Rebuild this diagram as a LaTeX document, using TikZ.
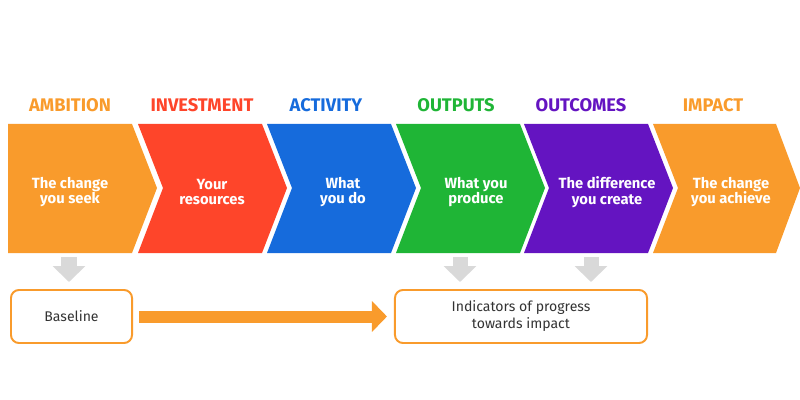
\documentclass[tikz,border=0pt]{standalone}
\usepackage{fontspec}
\setmainfont{Fira Sans}
\usetikzlibrary{arrows.meta}
\definecolor{ambitionorange}{HTML}{F99B2C}
\definecolor{investred}{HTML}{FE452A}
\definecolor{activityblue}{HTML}{166BDC}
\definecolor{outputgreen}{HTML}{1FB536}
\definecolor{outcomepurple}{HTML}{6414C1}
\definecolor{arrowgray}{HTML}{D9D9D9}
\definecolor{boxtext}{HTML}{333333}
\tikzset{
  headlabel/.style={font=\bfseries\fontsize{13}{15}\selectfont},
  chevlabel/.style={text=white, align=center, font=\bfseries\fontsize{10.5}{11}\selectfont},
  markbox/.style={draw=ambitionorange, line width=1.4pt, rounded corners=0.2cm,
    minimum height=1.325cm, text=boxtext, align=center,
    font=\fontsize{10}{12.1}\selectfont},
  grayarrow/.style={draw=arrowgray, line width=0.375cm,
    -{Triangle[width=0.8cm, length=0.4cm]}, shorten >=0.175cm},
  bigarrow/.style={draw=ambitionorange, line width=0.3cm,
    -{Triangle[width=0.75cm, length=0.375cm]}, shorten <=0.15cm, shorten >=0.175cm}
}
\begin{document}
\begin{tikzpicture}[x=0.025cm, y=-0.025cm]
\useasboundingbox (0,0) rectangle (800,400);
% chevrons
\fill[ambitionorange] (8,124) -- (132,124) -- (157,188) -- (132,253) -- (8,253) -- cycle;
\fill[investred] (138,124) -- (262,124) -- (287,188) -- (262,253) -- (138,253) -- (163,188) -- cycle;
\fill[activityblue] (267,124) -- (391,124) -- (416,188) -- (391,253) -- (267,253) -- (292,188) -- cycle;
\fill[outputgreen] (396,124) -- (520,124) -- (545,188) -- (520,253) -- (396,253) -- (421,188) -- cycle;
\fill[outcomepurple] (524,124) -- (648,124) -- (673,188) -- (648,253) -- (524,253) -- (549,188) -- cycle;
\fill[ambitionorange] (653,124) -- (776,124) -- (800,188) -- (776,253) -- (653,253) -- (678,188) -- cycle;
% headings
\node[headlabel, text=ambitionorange] (ambition) at (70,105) {AMBITION};
\node[headlabel, text=investred] (investment) at (202,105) {INVESTMENT};
\node[headlabel, text=activityblue] (activity) at (326,105) {ACTIVITY};
\node[headlabel, text=outputgreen] (outputs) at (456,105) {OUTPUTS};
\node[headlabel, text=outcomepurple] (outcomes) at (581,105) {OUTCOMES};
\node[headlabel, text=ambitionorange] (impact) at (713,105) {IMPACT};
% chevron texts
\node[chevlabel] (seek) at (70,192) {The change\\you seek};
\node[chevlabel] (resources) at (212,192) {Your\\resources};
\node[chevlabel] (whatdo) at (343,192) {What\\you do};
\node[chevlabel] (produce) at (476,192) {What you\\produce};
\node[chevlabel] (difference) at (607,192) {The difference\\you create};
\node[chevlabel] (achieve) at (731,192) {The change\\you achieve};
% boxes
\node[markbox, minimum width=3.025cm] (baseline) at (71.5,316.5) {Baseline};
\node[markbox, minimum width=6.3cm] (indicators) at (521,316.5) {Indicators of progress\\towards impact};
% arrows
\coordinate (ambition-foot) at (69,257);
\coordinate (outputs-foot) at (460,257);
\coordinate (outcomes-foot) at (591,257);
\draw[grayarrow] (ambition-foot) -- (ambition-foot |- baseline.north);
\draw[grayarrow] (outputs-foot) -- (outputs-foot |- indicators.north);
\draw[grayarrow] (outcomes-foot) -- (outcomes-foot |- indicators.north);
\draw[bigarrow] (baseline.east) -- (indicators.west);
\end{tikzpicture}
\end{document}
